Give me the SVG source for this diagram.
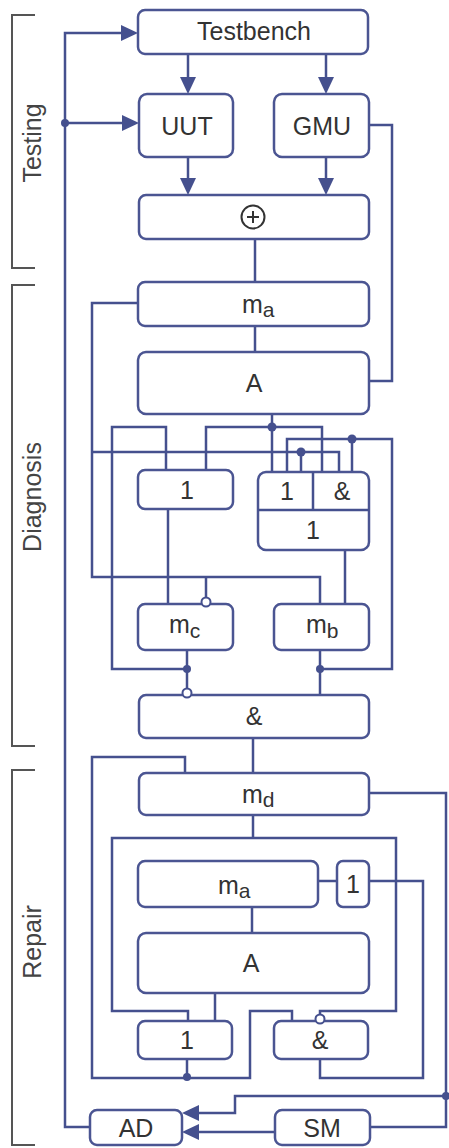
<svg xmlns="http://www.w3.org/2000/svg" width="449" height="1148" viewBox="0 0 449 1148">
<style>
.b{fill:#fff;stroke:#4b5592;stroke-width:2.5}
.w{fill:none;stroke:#45508e;stroke-width:2.5;stroke-linejoin:miter}
.t{font-family:"Liberation Sans",Arial,sans-serif;font-size:25px;fill:#333;text-anchor:middle}
.ts{font-family:"Liberation Sans",Arial,sans-serif;font-size:25px;fill:#333}
.sub{font-size:21px}
.br{fill:none;stroke:#555;stroke-width:2}
.lab{font-family:"Liberation Sans",Arial,sans-serif;font-size:25px;fill:#444;text-anchor:middle}
.d{fill:#45508e}
.inv{fill:#fff;stroke:#45508e;stroke-width:2}
</style>
<defs>
<marker id="ar" markerUnits="userSpaceOnUse" markerWidth="17" markerHeight="16" refX="7" refY="8" orient="auto">
<path d="M0,0 L17,8 L0,16 z" fill="#45508e"/>
</marker>
</defs>
<rect width="449" height="1148" fill="#fff"/>
<g id="brackets">
<path class="br" d="M35,15 H12 V268 H35"/>
<path class="br" d="M35,285 H12 V746 H35"/>
<path class="br" d="M35,770 H12 V1145 H35"/>
<text class="lab" transform="translate(41,143) rotate(-90)">Testing</text>
<text class="lab" transform="translate(41,497) rotate(-90)">Diagnosis</text>
<text class="lab" transform="translate(41,942) rotate(-90)">Repair</text>
</g>
<g id="connectors">
<path class="w" d="M90,1127 H65 V33 H128" marker-end="url(#ar)"/>
<path class="w" d="M65,123 H129" marker-end="url(#ar)"/>
<path class="w" d="M188,54 V84" marker-end="url(#ar)"/>
<path class="w" d="M326,54 V84" marker-end="url(#ar)"/>
<path class="w" d="M188,157 V185" marker-end="url(#ar)"/>
<path class="w" d="M326,157 V185" marker-end="url(#ar)"/>
<path class="w" d="M369,125 H392 V381 H369"/>
<path class="w" d="M255,239 V282"/>
<path class="w" d="M255,326 V352"/>
<path class="w" d="M138,303 H92 V577 H320 V604"/>
<path class="w" d="M206,577 V599"/>
<path class="w" d="M92,452 H339 V472"/>
<path class="w" d="M301,452 V472"/>
<path class="w" d="M272,414 V472"/>
<path class="w" d="M206,470 V427 H322 V472"/>
<path class="w" d="M187,669 H112 V427 H166 V470"/>
<path class="w" d="M320,669 H392 V439 H287 V472"/>
<path class="w" d="M352,439 V472"/>
<path class="w" d="M168,509 V604"/>
<path class="w" d="M345,550 V604"/>
<path class="w" d="M187,650 V690"/>
<path class="w" d="M320,650 V695"/>
<path class="w" d="M253,738 V773"/>
<path class="w" d="M185,773 V757 H92 V1078 H250 V1011 H292 V1021"/>
<path class="w" d="M187,1059 V1078"/>
<path class="w" d="M253,815 V838"/>
<path class="w" d="M188,1021 V1011 H112 V838 H396 V1011 H320 V1015"/>
<path class="w" d="M318,881 H337"/>
<path class="w" d="M369,881 H423 V1078 H320 V1059"/>
<path class="w" d="M252,907 V933"/>
<path class="w" d="M215,993 V1021"/>
<path class="w" d="M369,793 H446 V1127 H370"/>
<path class="w" d="M446,1096 H235 V1113 H192" marker-end="url(#ar)"/>
<path class="w" d="M275,1132 H192" marker-end="url(#ar)"/>
<circle class="d" cx="65" cy="123" r="4"/>
<circle class="d" cx="272" cy="427" r="4.5"/>
<circle class="d" cx="352" cy="439" r="4.5"/>
<circle class="d" cx="301" cy="452" r="4.5"/>
<circle class="d" cx="187" cy="669" r="4"/>
<circle class="d" cx="320" cy="669" r="4"/>
<circle class="d" cx="187" cy="1077" r="4"/>
<circle class="d" cx="446" cy="1096" r="4"/>
</g>
<g id="testbench"><rect class="b" x="138" y="10" width="230" height="44" rx="7"/><text class="t" x="254" y="40">Testbench</text></g>
<g id="uut"><rect class="b" x="139" y="94" width="94" height="63" rx="8"/><text class="t" x="187" y="135">UUT</text></g>
<g id="gmu"><rect class="b" x="274" y="94" width="95" height="63" rx="8"/><text class="t" x="322" y="135">GMU</text></g>
<g id="xor"><rect class="b" x="139" y="195" width="230" height="44" rx="7"/><circle cx="253" cy="217" r="11.5" fill="none" stroke="#333" stroke-width="2"/><path d="M247,217 H259 M253,211 V223" stroke="#333" stroke-width="2"/></g>
<g id="ma1"><rect class="b" x="138" y="282" width="231" height="44" rx="7"/><text class="ts" x="242" y="313">m<tspan class="sub" dy="4">a</tspan></text></g>
<g id="a1"><rect class="b" x="138" y="352" width="231" height="62" rx="8"/><text class="t" x="254" y="392">A</text></g>
<g id="or1"><rect class="b" x="138" y="470" width="95" height="39" rx="7"/><text class="t" x="187" y="499">1</text></g>
<g id="orand"><rect class="b" x="258" y="472" width="111" height="78" rx="8"/><path class="w" d="M258,510 H369 M313,472 V510"/><text class="t" x="287" y="500">1</text><text class="t" x="342" y="500">&amp;</text><text class="t" x="313" y="539">1</text></g>
<g id="mc"><rect class="b" x="138" y="604" width="95" height="46" rx="7"/><text class="ts" x="169" y="633">m<tspan class="sub" dy="5">c</tspan></text></g>
<g id="mb"><rect class="b" x="274" y="604" width="95" height="46" rx="7"/><text class="ts" x="306" y="633">m<tspan class="sub" dy="5">b</tspan></text></g>
<g id="and1"><rect class="b" x="139" y="695" width="230" height="43" rx="7"/><text class="t" x="254" y="725">&amp;</text></g>
<g id="md"><rect class="b" x="139" y="773" width="230" height="42" rx="7"/><text class="ts" x="242" y="803">m<tspan class="sub" dy="4">d</tspan></text></g>
<g id="ma2"><rect class="b" x="138" y="861" width="180" height="46" rx="7"/><text class="ts" x="218" y="894">m<tspan class="sub" dy="4">a</tspan></text></g>
<g id="or3"><rect class="b" x="337" y="861" width="32" height="46" rx="6"/><text class="t" x="353" y="893">1</text></g>
<g id="a2"><rect class="b" x="138" y="933" width="231" height="60" rx="8"/><text class="t" x="251" y="972">A</text></g>
<g id="or2"><rect class="b" x="138" y="1021" width="94" height="38" rx="7"/><text class="t" x="187" y="1049">1</text></g>
<g id="and2"><rect class="b" x="274" y="1021" width="94" height="38" rx="7"/><text class="t" x="320" y="1049">&amp;</text></g>
<g id="ad"><rect class="b" x="90" y="1110" width="92" height="35" rx="7"/><text class="t" x="136" y="1137">AD</text></g>
<g id="sm"><rect class="b" x="275" y="1110" width="95" height="35" rx="7"/><text class="t" x="322" y="1137">SM</text></g>
<g id="inverters">
<circle class="inv" cx="206" cy="602" r="4.5"/>
<circle class="inv" cx="187" cy="693" r="4.5"/>
<circle class="inv" cx="320" cy="1019" r="4.5"/>
</g>
</svg>
